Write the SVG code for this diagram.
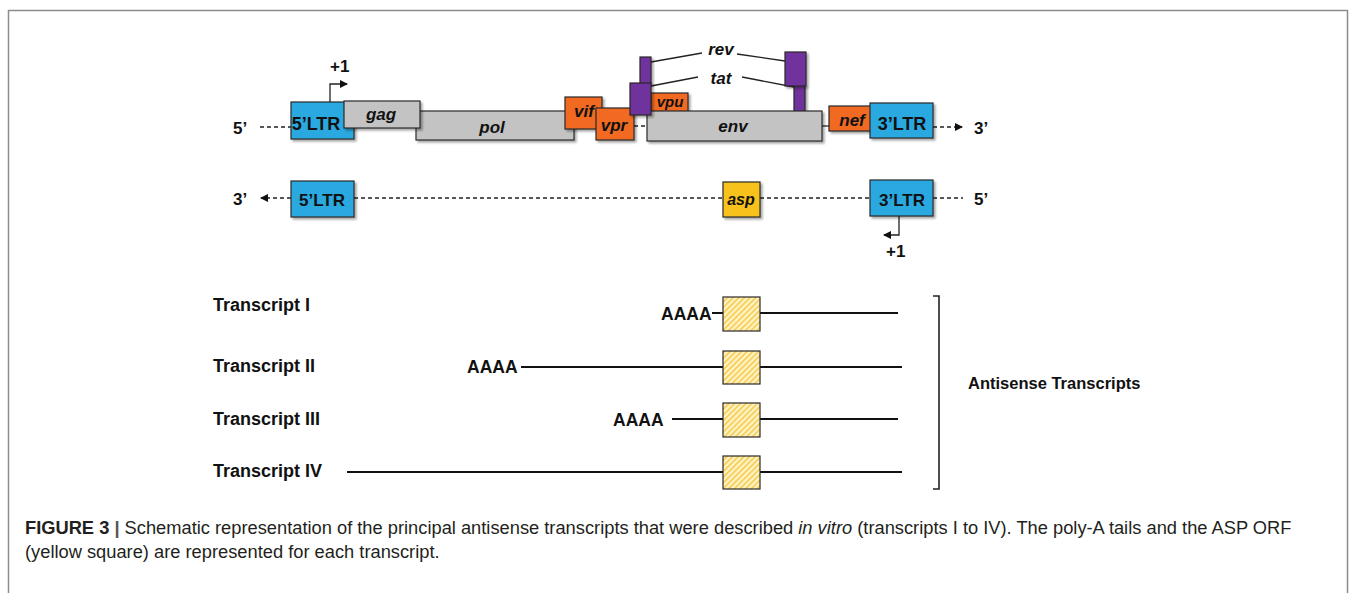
<svg xmlns="http://www.w3.org/2000/svg" width="1356" height="593" viewBox="0 0 1356 593">
<style>
.bx{stroke:#2a2a2a;stroke-width:1.2}
.ltr{fill:#2aa8e0}
.gr{fill:#c3c3c3}
.or{fill:#f26a21}
.pu{fill:#70309c}
.ye{fill:#f8c21a}
.t{font-family:"Liberation Sans",Arial,sans-serif;font-weight:bold;fill:#111}
.gi{font-family:"Liberation Sans",Arial,sans-serif;font-weight:bold;font-style:italic;fill:#111}
.dash{stroke:#222;stroke-width:1.4;stroke-dasharray:4 3;fill:none}
.ln{stroke:#111;stroke-width:2;fill:none}
.thin{stroke:#222;stroke-width:1.3;fill:none}
.cap{font-family:"Liberation Sans",Arial,sans-serif;font-size:18.3px;fill:#231f20}
</style>
<defs>
<filter id="sh" x="-20%" y="-20%" width="150%" height="150%">
<feDropShadow dx="2" dy="2" stdDeviation="1.2" flood-color="#000" flood-opacity="0.35"/>
</filter>
<pattern id="hatch" width="4" height="4" patternUnits="userSpaceOnUse" patternTransform="rotate(45)">
<rect width="4" height="4" fill="#fff4c8"/>
<rect width="1.6" height="4" fill="#f6c94a"/>
</pattern>
<marker id="ah" markerWidth="8" markerHeight="8" refX="7" refY="4" orient="auto" markerUnits="userSpaceOnUse">
<path d="M0,0 L8,4 L0,8 Z" fill="#111"/>
</marker>
</defs>
<rect x="0" y="0" width="1356" height="593" fill="#fff"/>
<path d="M8.5,600 V10.5 H1347.5 V600" fill="none" stroke="#8c8c8c" stroke-width="1.5"/>

<g id="connectors">
<line class="dash" x1="260" y1="127" x2="291" y2="127"/>
<line class="dash" x1="634" y1="126" x2="647" y2="126"/>
<line class="thin" x1="822" y1="126" x2="829" y2="126"/>
<line class="dash" x1="933" y1="127" x2="962" y2="127" marker-end="url(#ah)"/>
<polyline class="thin" points="330,103 330,84 347,84" marker-end="url(#ah)"/>
<line class="thin" x1="651" y1="62" x2="702" y2="53"/>
<line class="thin" x1="737" y1="54" x2="785" y2="61"/>
<line class="thin" x1="651" y1="86" x2="698" y2="77"/>
<line class="thin" x1="742" y1="77" x2="794" y2="87"/>
<line class="dash" x1="291" y1="198" x2="261" y2="198" marker-end="url(#ah)"/>
<line class="dash" x1="354" y1="198" x2="723" y2="198"/>
<line class="dash" x1="760" y1="198" x2="870" y2="198"/>
<line class="dash" x1="933" y1="198" x2="963" y2="198"/>
<polyline class="thin" points="899,216 899,235 884,235" marker-end="url(#ah)"/>
<line class="ln" x1="712" y1="313" x2="723" y2="313" stroke-width="1.2"/>
<line class="ln" x1="760" y1="313" x2="898" y2="313"/>
<line class="ln" x1="521" y1="367" x2="723" y2="367"/>
<line class="ln" x1="760" y1="367" x2="902" y2="367"/>
<line class="ln" x1="672" y1="419" x2="723" y2="419"/>
<line class="ln" x1="760" y1="419" x2="898" y2="419"/>
<line class="ln" x1="347" y1="472" x2="723" y2="472"/>
<line class="ln" x1="760" y1="472" x2="902" y2="472"/>
<polyline points="933,296 939,296 939,489 933,489" fill="none" stroke="#222" stroke-width="1.6"/>
</g>

<g id="labels-ends">
<text class="t" x="233" y="134" font-size="17">5’</text>
<text class="t" x="974" y="134" font-size="17">3’</text>
<text class="t" x="330" y="72" font-size="17">+1</text>
<text class="t" x="233" y="205" font-size="17">3’</text>
<text class="t" x="974" y="205" font-size="17">5’</text>
<text class="t" x="886" y="257" font-size="17">+1</text>
</g>

<g id="pol"><rect class="bx gr" x="416" y="111" width="158" height="29" filter="url(#sh)"/><text class="gi" x="492" y="133" font-size="17" text-anchor="middle">pol</text></g>
<g id="ltr5"><rect class="bx ltr" x="291" y="102" width="63" height="37" filter="url(#sh)"/><text class="t" x="316" y="130" font-size="18" text-anchor="middle">5’LTR</text></g>
<g id="gag"><rect class="bx gr" x="344" y="101" width="76" height="27" filter="url(#sh)"/><text class="gi" x="381" y="120" font-size="17" text-anchor="middle">gag</text></g>
<g id="vif"><rect class="bx or" x="565" y="97" width="37" height="32" filter="url(#sh)"/><text class="gi" x="584" y="117" font-size="17" text-anchor="middle">vif</text></g>
<g id="vpr"><rect class="bx or" x="596" y="108" width="38" height="32" filter="url(#sh)"/><text class="gi" x="614" y="131" font-size="17" text-anchor="middle">vpr</text></g>
<g id="vpu"><rect class="bx or" x="651" y="93" width="37" height="19" filter="url(#sh)"/><text class="gi" x="670" y="107" font-size="15" text-anchor="middle">vpu</text></g>
<g id="rev-r"><rect class="bx pu" x="794" y="85" width="11" height="27" filter="url(#sh)"/></g>
<g id="env"><rect class="bx gr" x="647" y="111" width="175" height="30" filter="url(#sh)"/><text class="gi" x="733" y="132" font-size="17" text-anchor="middle">env</text></g>
<g id="tat-l"><rect class="bx pu" x="640" y="57" width="11" height="27" filter="url(#sh)"/><rect class="bx pu" x="630" y="83" width="21" height="32" filter="url(#sh)"/></g>
<g id="tat-r"><rect class="bx pu" x="785" y="52" width="21" height="34" filter="url(#sh)"/></g>
<g id="rev-tat-labels">
<text class="gi" x="721" y="55" font-size="17" text-anchor="middle" font-weight="normal">rev</text>
<text class="gi" x="721" y="84" font-size="17" text-anchor="middle">tat</text>
</g>
<g id="nef"><rect class="bx or" x="829" y="106" width="46" height="25" filter="url(#sh)"/><text class="gi" x="852" y="126" font-size="17" text-anchor="middle">nef</text></g>
<g id="ltr3"><rect class="bx ltr" x="870" y="103" width="63" height="35" filter="url(#sh)"/><text class="t" x="902" y="130" font-size="18" text-anchor="middle">3’LTR</text></g>

<g id="ltr5-as"><rect class="bx ltr" x="291" y="181" width="63" height="36" filter="url(#sh)"/><text class="t" x="322" y="206" font-size="17" text-anchor="middle">5’LTR</text></g>
<g id="asp"><rect class="bx ye" x="723" y="182" width="37" height="35" filter="url(#sh)"/><text class="gi" x="741" y="205" font-size="16" text-anchor="middle">asp</text></g>
<g id="ltr3-as"><rect class="bx ltr" x="870" y="180" width="63" height="36" filter="url(#sh)"/><text class="t" x="902" y="206" font-size="17" text-anchor="middle">3’LTR</text></g>

<g id="transcript1"><text class="t" x="213" y="311" font-size="18">Transcript I</text><text class="t" x="661" y="320" font-size="17.5">AAAA</text><rect class="bx" x="723" y="297" width="37" height="34" fill="url(#hatch)"/></g>
<g id="transcript2"><text class="t" x="213" y="372" font-size="18">Transcript II</text><text class="t" x="467" y="373" font-size="17.5">AAAA</text><rect class="bx" x="723" y="351" width="37" height="33" fill="url(#hatch)"/></g>
<g id="transcript3"><text class="t" x="213" y="425" font-size="18">Transcript III</text><text class="t" x="613" y="426" font-size="17.5">AAAA</text><rect class="bx" x="723" y="403" width="37" height="34" fill="url(#hatch)"/></g>
<g id="transcript4"><text class="t" x="213" y="477" font-size="18">Transcript IV</text><rect class="bx" x="723" y="456" width="37" height="33" fill="url(#hatch)"/></g>
<g id="antisense"><text class="t" x="968" y="389" font-size="16.5">Antisense Transcripts</text></g>

<g id="caption">
<text class="cap" x="25" y="534"><tspan font-weight="bold">FIGURE 3</tspan><tspan fill="#555" font-weight="bold">  |  </tspan>Schematic representation of the principal antisense transcripts that were described <tspan font-style="italic">in vitro</tspan> (transcripts I to IV). The poly-A tails and the ASP ORF</text>
<text class="cap" x="25" y="558">(yellow square) are represented for each transcript.</text>
</g>
</svg>
